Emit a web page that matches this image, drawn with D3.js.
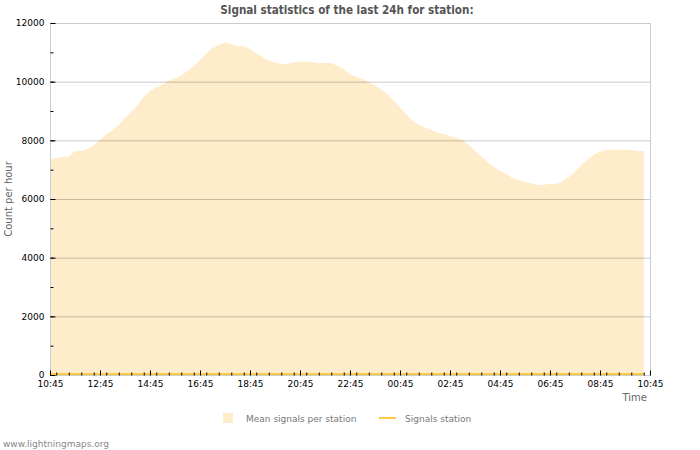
<!DOCTYPE html>
<html lang="en">
<head>
<meta charset="UTF-8">
<title>Signal statistics</title>
<script src="https://cdn.jsdelivr.net/npm/d3@7"></script>
<style>
body { margin: 0; background: #fff; }
text { font-family: "DejaVu Sans", sans-serif; }
</style>
</head>
<body>
<svg width="700" height="450"></svg>
<script>
// data: one value every 15 minutes, starting 10:45
var startTime = new Date(2024, 0, 1, 10, 45);
var stepMinutes = 15;
var meanSignals = [
    7360, 7400, 7430, 7450, 7640, 7640, 7710, 7830, 8030, 8210, 8340, 8530,
    8770, 8970, 9200, 9490, 9680, 9800, 9900, 10030, 10120, 10220, 10360, 10540,
    10740, 10950, 11150, 11250, 11340, 11270, 11220, 11200, 11110, 10970, 10840, 10720,
    10650, 10600, 10610, 10650, 10680, 10690, 10660, 10640, 10640, 10630, 10540, 10420,
    10260, 10170, 10080, 9970, 9860, 9730, 9570, 9360, 9130, 8870, 8680, 8530,
    8440, 8360, 8270, 8220, 8140, 8090, 8010, 7830, 7650, 7450, 7270, 7090,
    6960, 6850, 6720, 6630, 6590, 6540, 6480, 6490, 6510, 6510, 6600, 6740,
    6930, 7160, 7350, 7510, 7610, 7670, 7680, 7680, 7680, 7670, 7640, 7640
];
var stationSignals = [
    0, 0, 0, 0, 0, 0, 0, 0, 0, 0, 0, 0, 0, 0, 0, 0, 0, 0, 0, 0, 0, 0, 0, 0,
    0, 0, 0, 0, 0, 0, 0, 0, 0, 0, 0, 0, 0, 0, 0, 0, 0, 0, 0, 0, 0, 0, 0, 0,
    0, 0, 0, 0, 0, 0, 0, 0, 0, 0, 0, 0, 0, 0, 0, 0, 0, 0, 0, 0, 0, 0, 0, 0,
    0, 0, 0, 0, 0, 0, 0, 0, 0, 0, 0, 0, 0, 0, 0, 0, 0, 0, 0, 0, 0, 0, 0, 0
];
var yTicks = [0, 2000, 4000, 6000, 8000, 10000, 12000];
var legendNames = ["Mean signals per station", "Signals station"];

var areaColor = "#feecca", lineColor = "#fdca45";

var svg = d3.select("svg");
// plot box (note: "top" would clash with window.top)
var plotLeft = 50, plotRight = 650, plotTop = 23, plotBottom = 375;

var endTime = d3.timeHour.offset(startTime, 24);
var x = d3.scaleTime().domain([startTime, endTime]).range([plotLeft, plotRight]);
var y = d3.scaleLinear().domain([0, 12000]).range([plotBottom, plotTop]);

function timeAt(i) { return d3.timeMinute.offset(startTime, i * stepMinutes); }

// title
svg.append("text")
    .attr("x", 347).attr("y", 14)
    .attr("text-anchor", "middle")
    .style("font-family", "'DejaVu Sans Condensed', 'DejaVu Sans', sans-serif")
    .style("font-weight", "bold")
    .style("font-size", "11.6px")
    .attr("fill", "#555")
    .text("Signal statistics of the last 24h for station:");

// area
var area = d3.area()
    .x(function(d, i) { return x(timeAt(i)); })
    .y0(y(0))
    .y1(function(d) { return y(d); });
svg.append("path")
    .datum(meanSignals)
    .attr("d", area)
    .attr("fill", areaColor);

// grid lines
svg.append("g").selectAll("line")
    .data(yTicks.slice(1))
    .enter().append("line")
    .attr("x1", plotLeft).attr("x2", plotRight)
    .attr("y1", function(d) { return y(d) + 0.5; })
    .attr("y2", function(d) { return y(d) + 0.5; })
    .attr("stroke", "rgba(0,0,0,0.21)");

// frame
svg.append("rect")
    .attr("x", plotLeft + 0.5).attr("y", plotTop + 0.5)
    .attr("width", plotRight - plotLeft).attr("height", plotBottom - plotTop)
    .attr("fill", "none")
    .attr("stroke", "#cccccc");

// station line
var line = d3.line()
    .x(function(d, i) { return x(timeAt(i)); })
    .y(function(d) { return y(d) - 1; });
svg.append("path")
    .datum(stationSignals)
    .attr("d", line)
    .attr("fill", "none")
    .attr("stroke", lineColor)
    .attr("stroke-width", 2);

// x axis: minor ticks every 30 min, major every 2 h
svg.append("g")
    .attr("transform", "translate(0," + (plotBottom + 0.5) + ")")
    .call(d3.axisBottom(x).ticks(d3.timeMinute.every(30)).tickSize(-3).tickFormat(""))
    .call(function(g) { g.select(".domain").remove(); });
var xAxis = svg.append("g")
    .attr("transform", "translate(0," + (plotBottom + 0.5) + ")")
    .call(d3.axisBottom(x)
        .tickValues(d3.range(0, 25, 2).map(function(h) { return d3.timeHour.offset(startTime, h); }))
        .tickSize(-5).tickPadding(5)
        .tickFormat(d3.timeFormat("%H:%M")));
xAxis.select(".domain").remove();
xAxis.selectAll("text").style("font-size", "9px").attr("fill", "#000");

// y axis: ticks inside
svg.append("g")
    .attr("transform", "translate(" + (plotLeft + 0.5) + ",0)")
    .call(d3.axisRight(y).ticks(12).tickSize(3).tickFormat(""))
    .call(function(g) { g.select(".domain").remove(); });
var yAxis = svg.append("g")
    .attr("transform", "translate(" + (plotLeft + 0.5) + ",0)")
    .call(d3.axisRight(y).tickValues(yTicks).tickSize(5).tickFormat(d3.format("d")));
yAxis.select(".domain").remove();
yAxis.selectAll("text")
    .attr("x", -6)
    .attr("text-anchor", "end")
    .style("font-size", "9px")
    .attr("fill", "#000");

// axis titles
svg.append("text")
    .attr("x", 647).attr("y", 401)
    .attr("text-anchor", "end")
    .style("font-size", "10px")
    .attr("fill", "#666")
    .text("Time");
svg.append("text")
    .attr("transform", "translate(12,199) rotate(-90)")
    .attr("text-anchor", "middle")
    .style("font-size", "10px")
    .attr("fill", "#666")
    .text("Count per hour");

// legend
svg.append("rect")
    .attr("x", 223).attr("y", 413)
    .attr("width", 10).attr("height", 10)
    .attr("fill", areaColor);
svg.append("text")
    .attr("x", 246).attr("y", 422)
    .style("font-size", "9px")
    .attr("fill", "#777")
    .text(legendNames[0]);
svg.append("line")
    .attr("x1", 379).attr("x2", 396)
    .attr("y1", 418).attr("y2", 418)
    .attr("stroke", lineColor)
    .attr("stroke-width", 2);
svg.append("text")
    .attr("x", 405).attr("y", 422)
    .style("font-size", "9px")
    .attr("fill", "#777")
    .text(legendNames[1]);

// footer
svg.append("text")
    .attr("x", 3).attr("y", 447)
    .style("font-size", "9px")
    .attr("fill", "#888")
    .text("www.lightningmaps.org");
</script>
</body>
</html>
